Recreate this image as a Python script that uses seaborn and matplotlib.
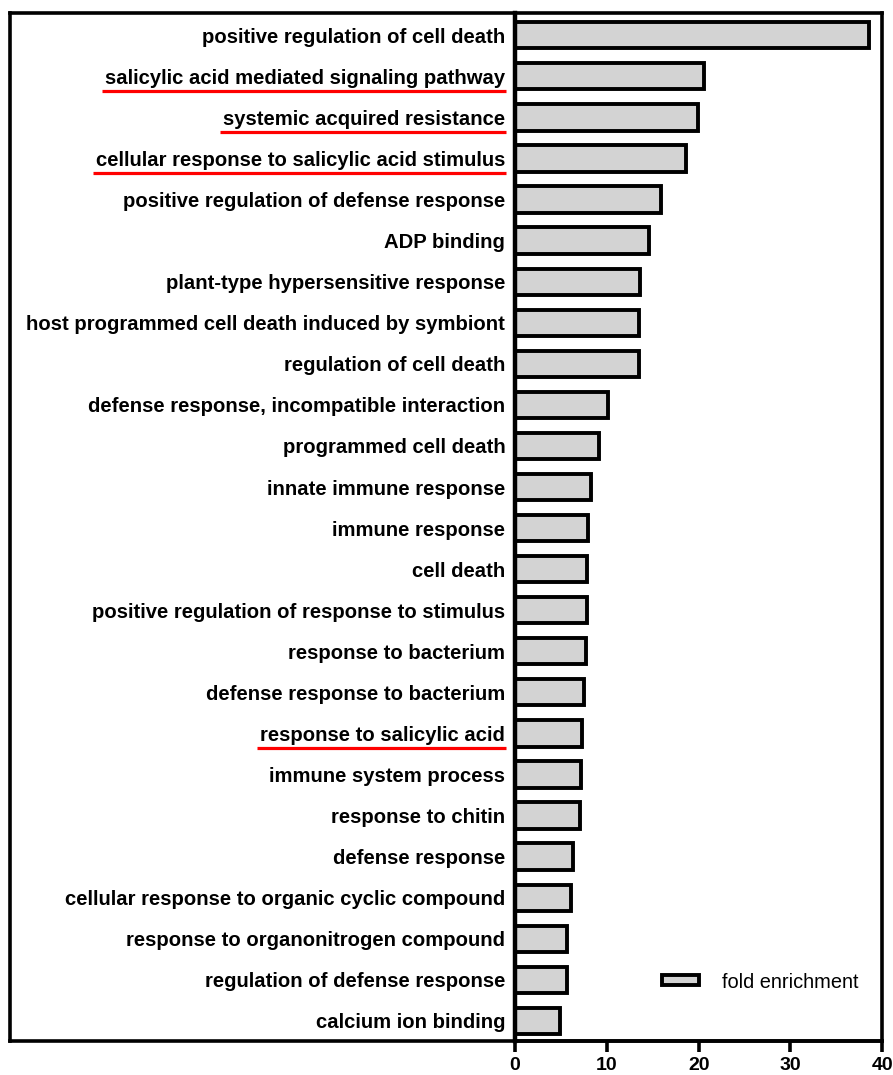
import matplotlib
matplotlib.use("Agg")
import matplotlib.pyplot as plt
from matplotlib.patches import Patch
from matplotlib.lines import Line2D
import seaborn as sns
import pandas as pd

# GO terms and their fold enrichment
terms = [
    "positive regulation of cell death",
    "salicylic acid mediated signaling pathway",
    "systemic acquired resistance",
    "cellular response to salicylic acid stimulus",
    "positive regulation of defense response",
    "ADP binding",
    "plant-type hypersensitive response",
    "host programmed cell death induced by symbiont",
    "regulation of cell death",
    "defense response, incompatible interaction",
    "programmed cell death",
    "innate immune response",
    "immune response",
    "cell death",
    "positive regulation of response to stimulus",
    "response to bacterium",
    "defense response to bacterium",
    "response to salicylic acid",
    "immune system process",
    "response to chitin",
    "defense response",
    "cellular response to organic cyclic compound",
    "response to organonitrogen compound",
    "regulation of defense response",
    "calcium ion binding",
]
fold_enrichment = [
    38.5, 20.6, 19.9, 18.6, 15.9, 14.6, 13.6, 13.5, 13.45, 10.1,
    9.15, 8.25, 8.0, 7.8, 7.8, 7.75, 7.5, 7.25, 7.15, 7.05,
    6.3, 6.05, 5.7, 5.7, 4.95,
]
highlighted = [
    "salicylic acid mediated signaling pathway",
    "systemic acquired resistance",
    "cellular response to salicylic acid stimulus",
    "response to salicylic acid",
]
x_ticks = [0, 10, 20, 30, 40]
legend_label = "fold enrichment"

df = pd.DataFrame({"term": terms, "fold": fold_enrichment})

sns.set_style("white")
plt.rcParams["font.family"] = ["Liberation Sans", "DejaVu Sans"]
plt.rcParams["text.color"] = "black"
plt.rcParams["xtick.color"] = "black"
plt.rcParams["ytick.color"] = "black"

W, H = 893, 1075
fig = plt.figure(figsize=(W / 100, H / 100), dpi=100)

left_px, right_px, top_px, bottom_px = 10, 882.3, 13.3, 1041
axis_px = 515
fb = 1 - bottom_px / H
fh = (bottom_px - top_px) / H

# outer frame around labels and bars
frame = fig.add_axes([left_px / W, fb, (right_px - left_px) / W, fh])
frame.set_xticks([])
frame.set_yticks([])
for s in frame.spines.values():
    s.set_linewidth(2.6)
    s.set_color("black")
frame.patch.set_alpha(0)

ax = fig.add_axes([axis_px / W, fb, (right_px - axis_px) / W, fh])
ax.patch.set_alpha(0)
sns.barplot(data=df, x="fold", y="term", orient="h", color="#d3d3d3",
            saturation=1, edgecolor="black", linewidth=2.8, width=0.64, ax=ax)

ax.set_xlim(0, 40)
ax.set_ylim(len(terms) - 1 + 0.49, -0.535)
ax.set_xticks(x_ticks)
ax.set_xticklabels([str(t) for t in x_ticks], fontsize=14,
                   fontweight="bold", color="black")
ax.set_xlabel("")
ax.set_ylabel("")
ax.tick_params(axis="x", length=8, width=2.6, direction="out", pad=3.5,
               bottom=True, colors="black")
ax.tick_params(axis="y", length=0, pad=7, labelsize=14.6, colors="black")
for lbl in ax.get_yticklabels():
    lbl.set_fontweight("bold")
    lbl.set_color("black")
for side in ("top", "right"):
    ax.spines[side].set_visible(False)
ax.spines["left"].set_linewidth(3.2)
ax.spines["bottom"].set_linewidth(2.6)
for s in ax.spines.values():
    s.set_color("black")

handle = Patch(facecolor="#d3d3d3", edgecolor="black", linewidth=2.8,
               label=legend_label)
fig.legend(handles=[handle], loc="center left",
           bbox_to_anchor=(652 / W, 1 - 982 / H), frameon=False,
           fontsize=14.4, borderpad=0, handlelength=1.85, handleheight=0.4,
           handletextpad=1.15, labelcolor="black")

# red underlines below the salicylic acid related terms
fig.canvas.draw()
renderer = fig.canvas.get_renderer()
for lbl in ax.get_yticklabels():
    if lbl.get_text() in highlighted:
        bb = lbl.get_window_extent(renderer)
        yc = ax.transData.transform((0, terms.index(lbl.get_text())))[1]
        y = yc - 14.5
        fig.add_artist(Line2D([bb.x0 - 3, bb.x1 + 1], [y, y], color="red",
                              linewidth=2.3, transform=None,
                              solid_capstyle="butt"))

fig.savefig("out.png", dpi=100)
